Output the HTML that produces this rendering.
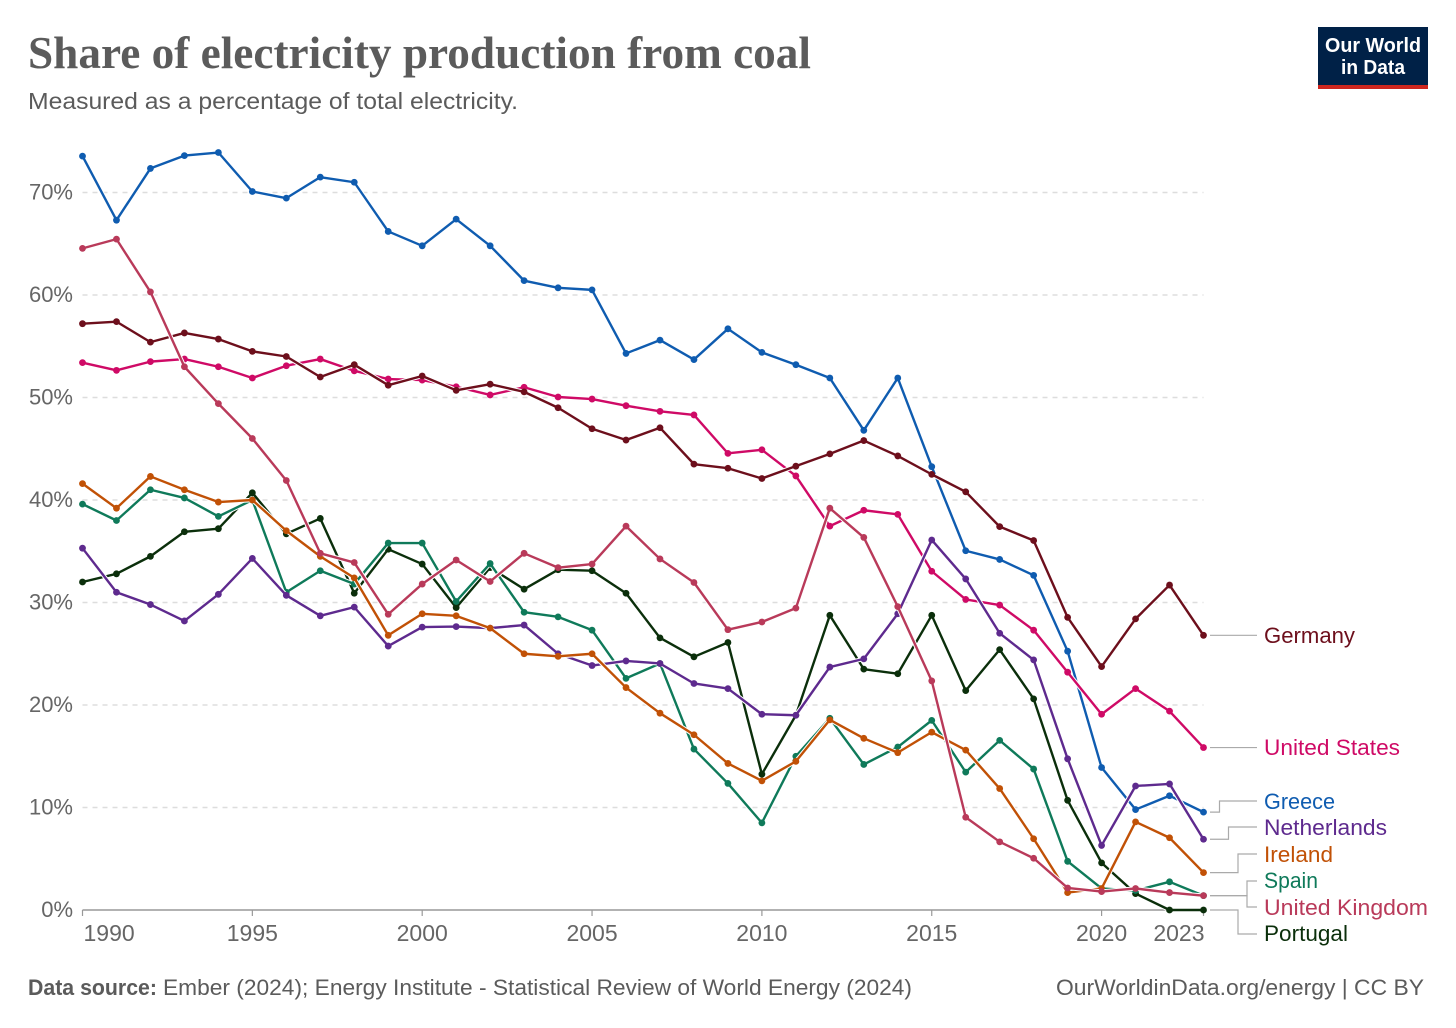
<!DOCTYPE html>
<html lang="en">
<head>
<meta charset="utf-8">
<title>Share of electricity production from coal</title>
<style>
html,body{margin:0;padding:0;background:#fff;}
svg{display:block;}
text{font-family:"Liberation Sans",sans-serif;}
.title{font-family:"Liberation Serif",serif;font-weight:700;font-size:45px;fill:#5b5b5b;}
.subtitle{font-size:23px;fill:#5b5b5b;}
.foot{font-size:22px;fill:#5b5b5b;}
.tick{font-size:22px;fill:#666;}
.year{font-size:23px;fill:#666;}
.lab{font-size:22px;}
</style>
</head>
<body>
<svg id="chart" xmlns="http://www.w3.org/2000/svg" width="1456" height="1028" viewBox="0 0 1456 1028">
  <rect x="0" y="0" width="1456" height="1028" fill="#ffffff"/>
  <text class="title" x="28" y="68" textLength="783" lengthAdjust="spacingAndGlyphs">Share of electricity production from coal</text>
  <text class="subtitle" x="28" y="109" textLength="490" lengthAdjust="spacingAndGlyphs">Measured as a percentage of total electricity.</text>

  <g>
    <rect x="1318" y="27" width="110" height="62" fill="#002147"/>
    <rect x="1318" y="85" width="110" height="4" fill="#ce261e"/>
    <text x="1325" y="52" font-size="20" font-weight="700" fill="#fff" textLength="96" lengthAdjust="spacingAndGlyphs">Our World</text>
    <text x="1341" y="74" font-size="20" font-weight="700" fill="#fff" textLength="64" lengthAdjust="spacingAndGlyphs">in Data</text>
  </g>

  <g id="grid"></g>
  <g id="yticks"></g>
  <g id="xaxis"></g>
  <g id="connectors"></g>
  <g id="series"></g>

  <g>
    <text class="lab" x="1264" y="643" fill="#6d0f1c" textLength="91" lengthAdjust="spacingAndGlyphs">Germany</text>
    <text class="lab" x="1264" y="755" fill="#cf0a66" textLength="136" lengthAdjust="spacingAndGlyphs">United States</text>
    <text class="lab" x="1264" y="809" fill="#0f5cb0" textLength="71" lengthAdjust="spacingAndGlyphs">Greece</text>
    <text class="lab" x="1264" y="835" fill="#5e2a8e" textLength="123" lengthAdjust="spacingAndGlyphs">Netherlands</text>
    <text class="lab" x="1264" y="862" fill="#c15106" textLength="69" lengthAdjust="spacingAndGlyphs">Ireland</text>
    <text class="lab" x="1264" y="888" fill="#0f7a5a" textLength="54" lengthAdjust="spacingAndGlyphs">Spain</text>
    <text class="lab" x="1264" y="915" fill="#b93a5a" textLength="164" lengthAdjust="spacingAndGlyphs">United Kingdom</text>
    <text class="lab" x="1264" y="941" fill="#0b2f0b" textLength="84" lengthAdjust="spacingAndGlyphs">Portugal</text>
  </g>

  <text class="foot" x="28" y="995" font-weight="700" textLength="129" lengthAdjust="spacingAndGlyphs">Data source:</text>
  <text class="foot" x="163" y="995" textLength="749" lengthAdjust="spacingAndGlyphs">Ember (2024); Energy Institute - Statistical Review of World Energy (2024)</text>
  <text class="foot" x="1056" y="995" textLength="368" lengthAdjust="spacingAndGlyphs">OurWorldinData.org/energy | CC BY</text>
</svg>
<script>
const years = [1990,1991,1992,1993,1994,1995,1996,1997,1998,1999,2000,2001,2002,2003,2004,2005,2006,2007,2008,2009,2010,2011,2012,2013,2014,2015,2016,2017,2018,2019,2020,2021,2022,2023];
const yTickValues = [10,20,30,40,50,60,70];
const xTickYears = [1990,1995,2000,2005,2010,2015,2020,2023];

const greeceValues = [73.55,67.3,72.35,73.6,73.9,70.1,69.45,71.5,71.0,66.2,64.8,67.4,64.8,61.4,60.7,60.5,54.3,55.6,53.7,56.7,54.4,53.2,51.9,46.8,51.9,43.25,35.05,34.2,32.65,25.25,13.9,9.8,11.15,9.55];
const germanyValues = [57.2,57.4,55.4,56.3,55.7,54.5,54.0,52.0,53.2,51.2,52.1,50.7,51.3,50.55,49.0,46.95,45.85,47.05,43.5,43.1,42.1,43.3,44.5,45.8,44.3,42.5,40.8,37.4,36.05,28.55,23.75,28.4,31.7,26.8];
const unitedStatesValues = [53.4,52.65,53.5,53.75,53.0,51.9,53.1,53.75,52.6,51.8,51.7,51.05,50.25,51.0,50.05,49.85,49.2,48.65,48.3,44.55,44.9,42.35,37.45,39.0,38.6,33.05,30.3,29.75,27.3,23.2,19.1,21.6,19.4,15.85];
const unitedKingdomValues = [64.55,65.45,60.3,53.0,49.4,46.0,41.9,34.8,33.9,28.85,31.8,34.15,32.05,34.8,33.4,33.75,37.45,34.25,31.95,27.35,28.1,29.45,39.2,36.35,29.6,22.35,9.05,6.65,5.05,2.15,1.8,2.1,1.7,1.4];
const irelandValues = [41.6,39.2,42.3,41.0,39.8,40.0,37.0,34.5,32.4,26.8,28.9,28.7,27.5,25.0,24.75,25.0,21.7,19.2,17.1,14.3,12.6,14.5,18.55,16.75,15.35,17.35,15.6,11.85,6.95,1.7,2.1,8.6,7.05,3.65];
const spainValues = [39.6,38.0,41.0,40.2,38.4,40.0,31.0,33.1,31.8,35.8,35.8,30.1,33.8,29.05,28.6,27.3,22.6,24.05,15.7,12.35,8.5,15.0,18.7,14.2,15.9,18.5,13.45,16.55,13.75,4.75,2.1,1.9,2.75,1.4];
const portugalValues = [32.0,32.8,34.5,36.9,37.2,40.7,36.7,38.2,30.9,35.2,33.75,29.5,33.4,31.3,33.2,33.1,30.9,26.55,24.7,26.1,13.25,19.0,28.75,23.5,23.05,28.75,21.4,25.4,20.6,10.7,4.6,1.6,0.0,0.0];
const netherlandsValues = [35.3,31.0,29.8,28.2,30.8,34.3,30.7,28.7,29.55,25.75,27.6,27.65,27.5,27.8,25.0,23.85,24.3,24.05,22.1,21.6,19.1,19.0,23.7,24.5,28.9,36.1,32.3,27.0,24.4,14.75,6.3,12.1,12.3,6.9];

const NS = 'http://www.w3.org/2000/svg';
const X0 = 82.5, X1 = 1203.5, Y0 = 910, PX_PER_PCT = 10.25;
const xScale = function (yr) { return X0 + (yr - years[0]) * (X1 - X0) / (years[years.length - 1] - years[0]); };
const yScale = function (v) { return Y0 - v * PX_PER_PCT; };
const make = function (tag, parent) {
  const el = document.createElementNS(NS, tag);
  parent.appendChild(el);
  return el;
};

/* gridlines and y ticks */
const gridGroup = document.getElementById('grid');
const yGroup = document.getElementById('yticks');
yTickValues.forEach(function (v) {
  const line = make('line', gridGroup);
  
  
  line.setAttribute('x1', X0);
  line.setAttribute('x2', X1);
  line.setAttribute('y1', yScale(v));
  line.setAttribute('y2', yScale(v));
  line.setAttribute('stroke', '#dddddd');
  line.setAttribute('stroke-width', '1.5');
  line.setAttribute('stroke-dasharray', '5,5');
});
[0].concat(yTickValues).forEach(function (v) {
  const t = make('text', yGroup);
  
  
  t.setAttribute('class', 'tick');
  t.setAttribute('x', 73);
  t.setAttribute('y', yScale(v) + 7);
  t.setAttribute('text-anchor', 'end');
  t.textContent = v + '%';
});

/* x axis */
const xGroup = document.getElementById('xaxis');
const axisLine = make('line', xGroup);


axisLine.setAttribute('x1', X0);
axisLine.setAttribute('x2', X1);
axisLine.setAttribute('y1', Y0);
axisLine.setAttribute('y2', Y0);
axisLine.setAttribute('stroke', '#999999');
axisLine.setAttribute('stroke-width', '1.5');
xTickYears.forEach(function (yr, i) {
  const tick = make('line', xGroup);
  
  
  tick.setAttribute('x1', xScale(yr));
  tick.setAttribute('x2', xScale(yr));
  tick.setAttribute('y1', Y0);
  tick.setAttribute('y2', Y0 + 6);
  tick.setAttribute('stroke', '#999999');
  tick.setAttribute('stroke-width', '1.2');
  const t = make('text', xGroup);
  
  
  t.setAttribute('class', 'year');
  t.setAttribute('y', 941);
  let anchor = 'middle';
  let tx = xScale(yr);
  if (i === 0) { anchor = 'start'; tx = xScale(yr) + 1; }
  if (i === xTickYears.length - 1) { anchor = 'end'; tx = xScale(yr) + 1; }
  t.setAttribute('x', tx);
  t.setAttribute('text-anchor', anchor);
  t.textContent = yr;
});

/* label connectors: start at the series' last value, route to the label */
const connectorGroup = document.getElementById('connectors');
const addConnector = function (name, values, elbowX, labelY) {
  const sy = yScale(values[values.length - 1]);
  const p = make('path', connectorGroup);
  
  
  p.setAttribute('d', 'M1210 ' + sy + ' H' + elbowX + ' V' + labelY + ' H1257');
  p.setAttribute('fill', 'none');
  p.setAttribute('stroke', '#aaaaaa');
  p.setAttribute('stroke-width', '1.2');
};
addConnector('connector-germany', germanyValues, 1233, yScale(germanyValues[germanyValues.length - 1]));
addConnector('connector-united-states', unitedStatesValues, 1233, yScale(unitedStatesValues[unitedStatesValues.length - 1]));
addConnector('connector-greece', greeceValues, 1219.5, 801);
addConnector('connector-netherlands', netherlandsValues, 1228.5, 827);
addConnector('connector-ireland', irelandValues, 1238, 854);
addConnector('connector-spain', spainValues, 1247, 881);
addConnector('connector-united-kingdom', unitedKingdomValues, 1247, 907);
addConnector('connector-portugal', portugalValues, 1238, 934);

/* series lines, drawn back to front */
const seriesGroup = document.getElementById('series');
const drawSeries = function (name, values, color) {
  const g = make('g', seriesGroup);
  
  
  const pts = values.map(function (v, i) { return xScale(years[i]).toFixed(2) + ',' + yScale(v).toFixed(2); }).join(' ');
  const halo = make('polyline', g);
  
  
  halo.setAttribute('points', pts);
  halo.setAttribute('fill', 'none');
  halo.setAttribute('stroke', '#ffffff');
  halo.setAttribute('stroke-width', '4.4');
  halo.setAttribute('stroke-linejoin', 'round');
  const line = make('polyline', g);
  
  
  line.setAttribute('points', pts);
  line.setAttribute('fill', 'none');
  line.setAttribute('stroke', color);
  line.setAttribute('stroke-width', '2.4');
  line.setAttribute('stroke-linejoin', 'round');
  values.forEach(function (v, i) {
    const c = make('circle', g);
    
    
    c.setAttribute('cx', xScale(years[i]));
    c.setAttribute('cy', yScale(v));
    c.setAttribute('r', '3.4');
    c.setAttribute('fill', color);
  });
};
drawSeries('portugal', portugalValues, '#0b2f0b');
drawSeries('spain', spainValues, '#0f7a5a');
drawSeries('greece', greeceValues, '#0f5cb0');
drawSeries('united-states', unitedStatesValues, '#cf0a66');
drawSeries('netherlands', netherlandsValues, '#5e2a8e');
drawSeries('ireland', irelandValues, '#c15106');
drawSeries('germany', germanyValues, '#6d0f1c');
drawSeries('united-kingdom', unitedKingdomValues, '#b93a5a');
</script>
</body>
</html>
